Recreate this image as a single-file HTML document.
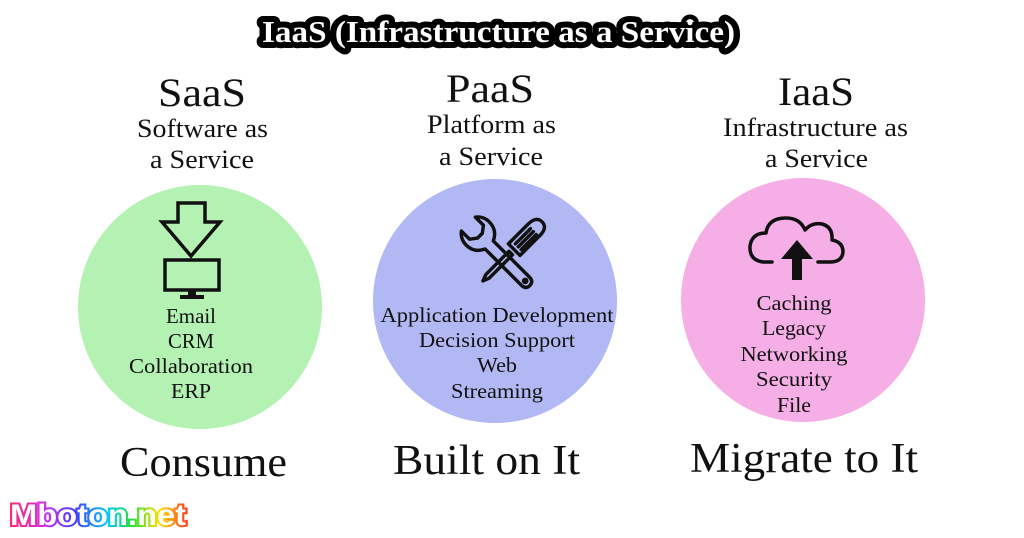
<!DOCTYPE html>
<html><head><meta charset="utf-8"><style>
html,body{margin:0;padding:0;background:#fff;width:1024px;height:538px;overflow:hidden}
svg{display:block}
text{font-family:"Liberation Serif",serif;fill:#111}
</style></head><body>
<svg width="1024" height="538" viewBox="0 0 1024 538" xmlns="http://www.w3.org/2000/svg">
<text x="262" y="42" textLength="473" lengthAdjust="spacingAndGlyphs" font-size="31" font-weight="bold" style="fill:#fff;stroke:#000;stroke-width:12;stroke-linejoin:round;paint-order:stroke">IaaS (Infrastructure as a Service)</text>

<text x="158" y="106" textLength="88" lengthAdjust="spacingAndGlyphs" font-size="40">SaaS</text>
<text x="137" y="137" textLength="131" lengthAdjust="spacingAndGlyphs" font-size="26">Software as</text>
<text x="150" y="168" textLength="104" lengthAdjust="spacingAndGlyphs" font-size="26">a Service</text>

<text x="446" y="102" textLength="88" lengthAdjust="spacingAndGlyphs" font-size="40">PaaS</text>
<text x="427" y="133" textLength="129" lengthAdjust="spacingAndGlyphs" font-size="26">Platform as</text>
<text x="439" y="165" textLength="104" lengthAdjust="spacingAndGlyphs" font-size="26">a Service</text>

<text x="778" y="105" textLength="76" lengthAdjust="spacingAndGlyphs" font-size="40">IaaS</text>
<text x="723" y="136" textLength="185" lengthAdjust="spacingAndGlyphs" font-size="26">Infrastructure as</text>
<text x="765" y="167" textLength="103" lengthAdjust="spacingAndGlyphs" font-size="26">a Service</text>

<circle cx="200" cy="307" r="122" fill="#b3f2b2"/>
<circle cx="495" cy="301" r="122" fill="#b1b8f4"/>
<circle cx="803" cy="300" r="122" fill="#f6aee6"/>

<g fill="none" stroke="#111" stroke-width="3.5" stroke-linejoin="miter">
<polygon points="178,203 205,203 205,222 220,222 191,256 162,222 178,222"/>
<rect x="165" y="260" width="54" height="30"/>
</g>
<rect x="188" y="290" width="8" height="5" fill="#111"/>
<rect x="180" y="295" width="24" height="4" fill="#111"/>

<g fill="none" stroke="#111" stroke-width="4.2" stroke-linejoin="round" stroke-linecap="round" transform="translate(502,252) scale(0.82) translate(-500,-243)">
<g transform="translate(505,250) rotate(45)">
<path d="M-10,-48 Q-10,-62 0,-62 Q10,-62 10,-48 L10,-14 L-10,-14 Z"/>
<line x1="-4" y1="-46" x2="-4" y2="-20"/><line x1="1" y1="-46" x2="1" y2="-20"/><line x1="6" y1="-46" x2="6" y2="-20"/>
<path d="M-3,-8 L-3,32 L0,40 L3,32 L3,-8 Z"/>
</g>
<g transform="translate(500,250) rotate(-45)">
<path d="M-7,-22 L-7,40 Q-7,48 0,48 Q7,48 7,40 L7,-22 Q20,-28 20,-42 Q20,-52 12,-58 L12,-44 L4,-38 L-4,-38 L-12,-44 L-12,-58 Q-20,-52 -20,-42 Q-20,-28 -7,-22 Z"/>
<circle cx="0" cy="40" r="2" fill="#111"/>
</g>
</g>

<path d="M772,262 L763,262 Q749,260 750,246 Q752,233 766,233 Q768,218 786,218 Q800,218 805,230 Q812,222 822,224 Q833,227 832,240 Q843,242 843,252 Q842,262 830,262 L818,262" fill="none" stroke="#111" stroke-width="3.5" stroke-linecap="round" stroke-linejoin="round"/>
<polygon points="797,240 813,259 802,259 802,280 792,280 792,259 781,259" fill="#111"/>

<g font-size="21" text-anchor="middle">
<text x="191" y="323" textLength="50" lengthAdjust="spacingAndGlyphs">Email</text>
<text x="191" y="348" textLength="46" lengthAdjust="spacingAndGlyphs">CRM</text>
<text x="191" y="373" textLength="124" lengthAdjust="spacingAndGlyphs">Collaboration</text>
<text x="191" y="398" textLength="40" lengthAdjust="spacingAndGlyphs">ERP</text>

<text x="497" y="322" textLength="233" lengthAdjust="spacingAndGlyphs">Application Development</text>
<text x="497" y="347" textLength="156" lengthAdjust="spacingAndGlyphs">Decision Support</text>
<text x="497" y="372" textLength="40" lengthAdjust="spacingAndGlyphs">Web</text>
<text x="497" y="398" textLength="92" lengthAdjust="spacingAndGlyphs">Streaming</text>

<text x="794" y="310" textLength="75" lengthAdjust="spacingAndGlyphs">Caching</text>
<text x="794" y="335" textLength="64" lengthAdjust="spacingAndGlyphs">Legacy</text>
<text x="794" y="361" textLength="107" lengthAdjust="spacingAndGlyphs">Networking</text>
<text x="794" y="386" textLength="76" lengthAdjust="spacingAndGlyphs">Security</text>
<text x="794" y="412" textLength="34" lengthAdjust="spacingAndGlyphs">File</text>
</g>

<text x="120" y="476" textLength="167" lengthAdjust="spacingAndGlyphs" font-size="42">Consume</text>
<text x="393" y="474" textLength="187" lengthAdjust="spacingAndGlyphs" font-size="42">Built on It</text>
<text x="690" y="472" textLength="228" lengthAdjust="spacingAndGlyphs" font-size="42">Migrate to It</text>

<defs><linearGradient id="rb" x1="0" x2="1" y1="0" y2="0">
<stop offset="0" stop-color="#ff2a6a"/><stop offset="0.2" stop-color="#d02cf0"/><stop offset="0.38" stop-color="#4040ff"/><stop offset="0.55" stop-color="#00c8ff"/><stop offset="0.7" stop-color="#30e030"/><stop offset="0.85" stop-color="#ffe000"/><stop offset="1" stop-color="#ff4020"/></linearGradient></defs>
<text x="10" y="525" textLength="176" lengthAdjust="spacingAndGlyphs" font-size="30" font-weight="bold" style="font-family:'Liberation Sans',sans-serif;fill:#fff;stroke:url(#rb);stroke-width:4;paint-order:stroke">Mboton.net</text>
</svg>
</body></html>
